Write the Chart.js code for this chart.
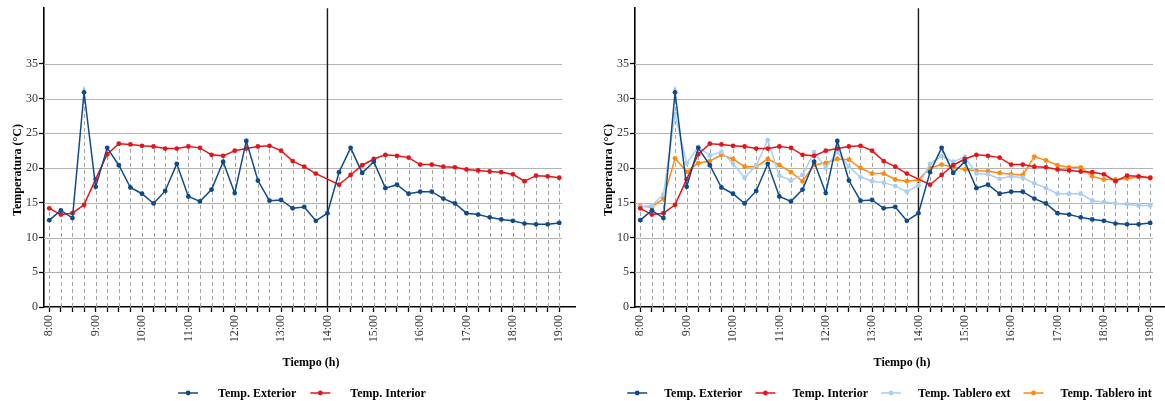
<!DOCTYPE html>
<html>
<head>
<meta charset="utf-8">
<script src="https://cdn.jsdelivr.net/npm/chart.js@4.4.1/dist/chart.umd.min.js"></script>
<style>
  html, body { margin: 0; padding: 0; background: #fff; overflow: hidden; width: 1165px; height: 401px; }
  .panel { position: absolute; top: 0; width: 591px; height: 401px; }
</style>
</head>
<body>
<div class="panel" style="left:0"><canvas id="panelLeft" width="591" height="401"></canvas></div>
<div class="panel" style="left:591px"><canvas id="panelRight" width="591" height="401"></canvas></div>
<script>
// Measurement times, every 15 minutes
const times = [
  "8:00","8:15","8:30","8:45","9:00","9:15","9:30","9:45",
  "10:00","10:15","10:30","10:45","11:00","11:15","11:30","11:45",
  "12:00","12:15","12:30","12:45","13:00","13:15","13:30","13:45",
  "14:00","14:15","14:30","14:45","15:00","15:15","15:30","15:45",
  "16:00","16:15","16:30","16:45","17:00","17:15","17:30","17:45",
  "18:00","18:15","18:30","18:45","19:00"
];

// Temperatures (°C)
const tempExterior = [
  12.5, 13.9, 12.8, 30.9, 17.3, 22.9, 20.4, 17.2, 16.3, 14.9, 16.7, 20.6,
  15.9, 15.2, 16.9, 20.9, 16.4, 23.9, 18.2, 15.3, 15.4, 14.2, 14.4, 12.4,
  13.5, 19.4, 22.9, 19.3, 20.9, 17.1, 17.6, 16.3, 16.6, 16.6, 15.6, 14.9,
  13.5, 13.3, 12.9, 12.6, 12.4, 12.0, 11.9, 11.9, 12.1
];
const tempInterior = [
  14.2, 13.3, 13.5, 14.7, 18.4, 22.0, 23.5, 23.4, 23.2, 23.1, 22.8, 22.8,
  23.1, 22.9, 21.9, 21.75, 22.5, 22.8, 23.1, 23.2, 22.5, 21.0, 20.2, 19.2,
  null, 17.6, 19.0, 20.4, 21.3, 21.9, 21.75, 21.5, 20.5, 20.5, 20.2, 20.1,
  19.8, 19.65, 19.5, 19.4, 19.1, 18.1, 18.9, 18.8, 18.6
];
const tempTableroExt = [
  14.4, 14.6, 16.2, 27.8, 20.65, 23.05, 21.8, 22.3, 20.65, 18.6, 20.4, 24.0,
  18.9, 18.2, 19.0, 22.3, 20.0, 22.3, 20.2, 18.7, 18.1, 17.9, 17.4, 16.6,
  17.5, 20.6, 21.7, 20.9, 21.6, 19.2, 19.1, 18.45, 18.8, 18.6, 17.8, 17.1,
  16.3, 16.3, 16.3, 15.3, 15.1, 14.9, 14.8, 14.6, 14.6
];
const tempTableroInt = [
  14.5, 14.4, 15.6, 21.4, 19.45, 20.7, 21.0, 21.9, 21.3, 20.2, 20.2, 21.3,
  20.45, 19.4, 18.1, 20.45, 20.75, 21.3, 21.2, 20.0, 19.2, 19.2, 18.35, 18.1,
  18.3, 20.0, 20.5, 20.1, 19.8, 19.6, 19.55, 19.3, 19.1, 19.0, 21.65, 21.1,
  20.4, 20.1, 20.1, 18.8, 18.35, 18.35, 18.5, 18.7, 18.55
];

const yTicks = [0, 5, 10, 15, 20, 25, 30, 35];
const markerTime = "14:00";

const seriesExterior   = { label: "Temp. Exterior",     values: tempExterior,   color: "#0f4a8a" };
const seriesInterior   = { label: "Temp. Interior",     values: tempInterior,   color: "#e5141b" };
const seriesTableroExt = { label: "Temp. Tablero ext",  values: tempTableroExt, color: "#a9cdf3" };
const seriesTableroInt = { label: "Temp. Tablero int",  values: tempTableroInt, color: "#ff8a0d" };

const hours = times.map(t => { const [h, m] = t.split(":").map(Number); return h + m / 60; });
const SERIF = '"Liberation Serif", "Times New Roman", serif';

// Grid, drop lines, the 14:00 marker, axis titles and legend
const panelDecor = {
  id: "panelDecor",
  beforeDatasetsDraw(chart, args, opts) {
    const { ctx, chartArea: a, scales: { x, y } } = chart;
    ctx.save();
    // horizontal grid lines
    ctx.strokeStyle = "#b3b3b3";
    ctx.lineWidth = 1.2;
    const gx = x.getPixelForValue(opts.gridEnd);
    yTicks.forEach(v => {
      if (v === 0) return;
      const py = Math.round(y.getPixelForValue(v)) + 0.5;
      ctx.beginPath(); ctx.moveTo(a.left, py); ctx.lineTo(gx, py); ctx.stroke();
    });
    // dashed drop lines from each time to the highest reading
    ctx.setLineDash([4, 3]);
    ctx.strokeStyle = "#a3a3a3";
    ctx.lineWidth = 1;
    hours.forEach((h, i) => {
      const vals = chart.data.datasets.map(d => d.data[i].y).filter(v => v != null);
      const top = Math.max(...vals);
      const px = Math.round(x.getPixelForValue(h)) + 0.5;
      ctx.beginPath(); ctx.moveTo(px, y.getPixelForValue(0)); ctx.lineTo(px, y.getPixelForValue(top)); ctx.stroke();
    });
    ctx.setLineDash([]);
    // 14:00 reference line
    const mx = x.getPixelForValue(hours[times.indexOf(markerTime)]);
    ctx.strokeStyle = "#1a1a1a";
    ctx.lineWidth = 1.4;
    ctx.beginPath(); ctx.moveTo(mx, a.top); ctx.lineTo(mx, a.bottom); ctx.stroke();
    ctx.restore();
  },
  afterDraw(chart, args, opts) {
    const { ctx } = chart;
    ctx.save();
    ctx.fillStyle = "#000";
    ctx.font = "bold 12px " + SERIF;
    ctx.textAlign = "center";
    ctx.textBaseline = "middle";
    // axis titles
    ctx.fillText("Tiempo (h)", opts.xTitle[0], opts.xTitle[1]);
    ctx.save();
    ctx.translate(opts.yTitle[0], opts.yTitle[1]);
    ctx.rotate(-Math.PI / 2);
    ctx.fillText("Temperatura (°C)", 0, 0);
    ctx.restore();
    // legend
    const L = opts.legend;
    const items = chart.data.datasets.map(d => ({ label: d.label, color: d.borderColor, w: ctx.measureText(d.label).width }));
    const total = items.reduce((s, it) => s + L.line + L.gap + it.w, 0) + L.spacing * (items.length - 1);
    let cx = L.center - total / 2;
    const ly = L.y;
    ctx.textAlign = "left";
    items.forEach(it => {
      ctx.strokeStyle = it.color;
      ctx.lineWidth = 1.5;
      ctx.beginPath(); ctx.moveTo(cx, ly); ctx.lineTo(cx + L.line, ly); ctx.stroke();
      ctx.fillStyle = it.color;
      ctx.beginPath(); ctx.arc(cx + L.line / 2, ly, 2.4, 0, Math.PI * 2); ctx.fill();
      ctx.fillStyle = "#000";
      ctx.fillText(it.label, cx + L.line + L.gap, ly + 0.5);
      cx += L.line + L.gap + it.w + L.spacing;
    });
    ctx.restore();
  }
};

function makePanel(id, series, legend) {
  return new Chart(document.getElementById(id), {
    type: "line",
    data: {
      datasets: series.map(s => ({
        label: s.label,
        data: s.values.map((v, i) => ({ x: hours[i], y: v })),
        borderColor: s.color,
        backgroundColor: s.color,
        borderWidth: 1.5,
        pointRadius: 2.4,
        pointHoverRadius: 2.4,
        pointBorderWidth: 0,
        tension: 0,
        spanGaps: true
      }))
    },
    options: {
      responsive: false,
      animation: false,
      devicePixelRatio: 1,
      events: [],
      layout: { padding: { left: 0, right: 16, top: 8, bottom: 0 } },
      plugins: {
        legend: { display: false },
        tooltip: { enabled: false },
        panelDecor: {
          gridEnd: 19.06,
          xTitle: [311, 363],
          yTitle: [17.5, 170],
          legend: legend
        }
      },
      scales: {
        x: {
          type: "linear",
          min: 7.886,
          max: 19.34,
          afterBuildTicks: s => { s.ticks = hours.map(v => ({ value: v })); },
          afterFit: s => { s.height = 94; },
          border: { display: true, color: "#000", width: 1.6 },
          grid: { drawOnChartArea: false, drawTicks: true, tickLength: 5, tickColor: "#000", tickWidth: 1.3 },
          ticks: {
            autoSkip: false,
            minRotation: 90,
            maxRotation: 90,
            padding: 3,
            color: "#333",
            font: { family: SERIF, size: 12 },
            callback: (v, i) => (times[i] && times[i].endsWith(":00")) ? times[i] : ""
          }
        },
        y: {
          min: 0,
          max: 43,
          afterBuildTicks: s => { s.ticks = yTicks.map(v => ({ value: v })); },
          afterFit: s => { s.width = 44; },
          border: { display: true, color: "#000", width: 1.6 },
          grid: { drawOnChartArea: false, drawTicks: true, tickLength: 5, tickColor: "#000", tickWidth: 1.3 },
          ticks: { padding: 1, color: "#333", font: { family: SERIF, size: 12 } }
        }
      }
    },
    plugins: [panelDecor]
  });
}

makePanel("panelLeft", [seriesExterior, seriesInterior],
  { center: 302, y: 393, line: 20, gap: 20, spacing: 14 });
makePanel("panelRight", [seriesExterior, seriesInterior, seriesTableroExt, seriesTableroInt],
  { center: 298.5, y: 393, line: 20, gap: 17, spacing: 13 });
</script>
</body>
</html>
